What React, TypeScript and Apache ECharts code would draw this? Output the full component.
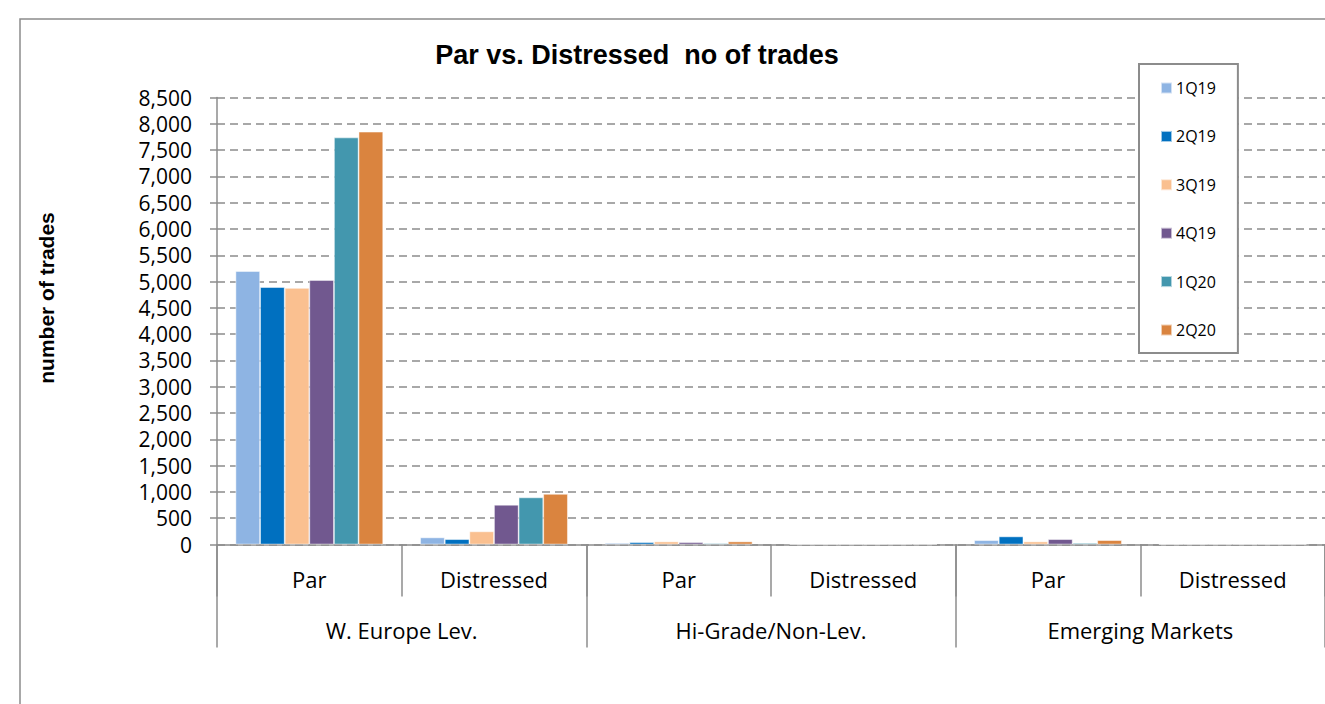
import React, { useEffect, useRef } from "react";
import * as echarts from "echarts";

const groups = ["W. Europe Lev.", "Hi-Grade/Non-Lev.", "Emerging Markets"];
const subCategories = ["Par", "Distressed", "Par", "Distressed", "Par", "Distressed"];
const seriesNames = ["1Q19", "2Q19", "3Q19", "4Q19", "1Q20", "2Q20"];
const q1_19 = [5200, 135, 30, 4, 83, 3];
const q2_19 = [4895, 102, 45, 3, 154, 4];
const q3_19 = [4878, 250, 58, 5, 58, 5];
const q4_19 = [5030, 756, 45, 3, 102, 3];
const q1_20 = [7740, 896, 25, 6, 30, 4];
const q2_20 = [7850, 962, 58, 8, 83, 6];
const yTicks = { min: 0, max: 8500, interval: 500 };
const colors = ["#8EB4E3", "#0070C0", "#FAC090", "#71588F", "#4397AE", "#DA843F"];

const seriesValues = [q1_19, q2_19, q3_19, q4_19, q1_20, q2_20];

export default function App() {
  const ref = useRef<HTMLDivElement>(null);
  useEffect(() => {
    if (!ref.current) return;
    const chart = echarts.init(ref.current, undefined, { renderer: "svg" });
    const keys = subCategories.map((s, i) => `${i}|${s}`);
    const gray = "#8c8c8c";
    const labelFont = "'Open Sans', 'Noto Sans', sans-serif";
    chart.setOption({
      animation: false,
      backgroundColor: "#ffffff",
      color: colors,
      grid: { left: 217, right: -6, top: 97.5, bottom: 159.5, containLabel: false },
      legend: {
        orient: "vertical",
        left: 1139,
        top: 64,
        data: seriesNames,
        icon: "rect",
        itemWidth: 11,
        itemHeight: 11,
        itemGap: 32.4,
        padding: [16, 22, 15, 21],
        borderColor: gray,
        borderWidth: 2,
        backgroundColor: "#ffffff",
        textStyle: { fontFamily: labelFont, fontSize: 16, color: "#000", padding: [0, 0, 0, -1] },
      },
      xAxis: [
        {
          type: "category",
          data: keys,
          position: "bottom",
          axisLine: { show: true, lineStyle: { color: gray, width: 1.5 } },
          axisTick: { show: true, length: 52, interval: 0, lineStyle: { color: gray, width: 1.5 } },
          axisLabel: {
            interval: 0,
            margin: 23,
            fontFamily: labelFont,
            fontSize: 22,
            color: "#000",
            formatter: (v: string) => v.split("|")[1],
          },
          splitLine: { show: false },
        },
        {
          type: "category",
          data: groups,
          position: "bottom",
          axisLine: { show: false },
          axisTick: { show: true, length: 103, interval: 0, lineStyle: { color: gray, width: 1.5 } },
          axisLabel: { interval: 0, margin: 74, fontFamily: labelFont, fontSize: 22, color: "#000" },
          splitLine: { show: false },
        },
      ],
      yAxis: {
        type: "value",
        min: yTicks.min,
        max: yTicks.max,
        interval: yTicks.interval,
        axisLine: { show: true, lineStyle: { color: gray, width: 1.5 } },
        axisTick: { show: true, length: 7, lineStyle: { color: gray, width: 1.5 } },
        axisLabel: {
          margin: 25,
          fontFamily: labelFont,
          fontSize: 21,
          color: "#000",
          formatter: (v: number) => v.toLocaleString("en-US"),
        },
        splitLine: { show: true, lineStyle: { color: gray, width: 1.5, type: [8, 5] } },
      },
      graphic: [
        {
          type: "rect",
          shape: { x: 20, y: 19, width: 1400, height: 800 },
          style: { fill: "none", stroke: gray, lineWidth: 1.5 },
          silent: true,
          z: -10,
        },
        {
          type: "text",
          x: 637,
          y: 55,
          style: {
            text: "Par vs. Distressed  no of trades",
            font: "bold 27px 'Liberation Sans', Arial, sans-serif",
            fill: "#000",
            textAlign: "center",
            textVerticalAlign: "middle",
          },
        },
        {
          type: "text",
          x: 46,
          y: 298,
          rotation: Math.PI / 2,
          style: {
            text: "number of trades",
            font: "bold 21px 'Liberation Sans', Arial, sans-serif",
            fill: "#000",
            textAlign: "center",
            textVerticalAlign: "middle",
          },
        },
      ],
      series: seriesNames.map((name, i) => ({
        name,
        type: "bar",
        xAxisIndex: 0,
        data: seriesValues[i],
        barGap: "0%",
        barCategoryGap: "20%",
        itemStyle: { color: colors[i], borderColor: "rgba(255,255,255,0.6)", borderWidth: 0.8 },
      })),
    });
    return () => chart.dispose();
  }, []);
  return (
    <div
      ref={ref}
      style={{ position: "absolute", left: 0, top: 0, width: 1325, height: 704, background: "#fff" }}
    />
  );
}
